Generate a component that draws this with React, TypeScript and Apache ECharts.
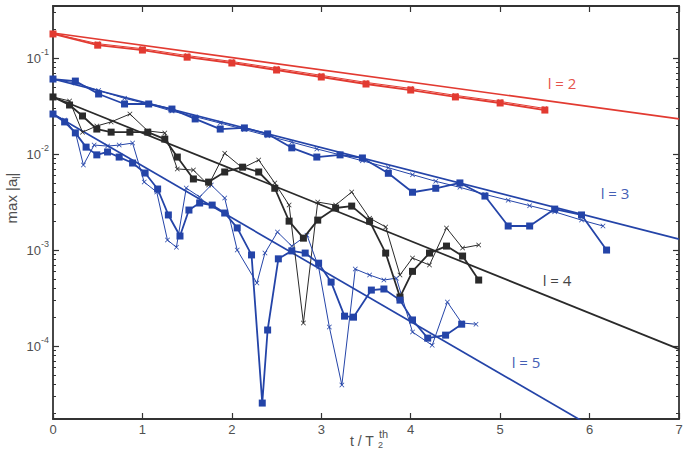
import { useEffect, useRef } from "react";
import * as echarts from "echarts";

// Axis ranges (t in units of T2th, amplitude on a log scale)
const X_MIN = 0;
const X_MAX = 7;
const Y_MIN = 1.74e-5;
const Y_MAX = 0.348;
const X_TICKS = [0, 1, 2, 3, 4, 5, 6, 7];
const Y_MAJOR = [1e-4, 1e-3, 1e-2, 1e-1];
const Y_DECADES = [1e-5, 1e-4, 1e-3, 1e-2, 1e-1];
const Y_MINOR_STEPS = [2, 3, 4, 5, 6, 7, 8, 9];

// Exponential fits (straight lines on the log axis)
const FIT_T = [0, 7];
const FIT_L2 = [0.182, 0.0232];
const FIT_L3 = [0.0604, 0.0013];
const FIT_L4 = [0.0393, 0.000093];
const FIT_L5 = [0.0261, 0.0000043];

// l = 2
const T_L2 = [0, 0.5, 1, 1.5, 2, 2.5, 3, 3.5, 4, 4.5, 5, 5.5];
const A_L2_SQ = [0.178, 0.136, 0.121, 0.102, 0.0887, 0.075, 0.0634, 0.0536, 0.0464, 0.0393, 0.034, 0.0287];
const A_L2_X = [0.18, 0.141, 0.125, 0.106, 0.092, 0.078, 0.066, 0.0557, 0.0482, 0.0408, 0.0353, 0.0298];

// l = 3
const T_L3_SQ = [0, 0.25, 0.51, 0.8, 1.07, 1.33, 1.59, 1.87, 2.14, 2.4, 2.67, 2.95, 3.21, 3.46, 3.75, 4.02, 4.28, 4.55, 4.83, 5.09, 5.33, 5.61, 5.91, 6.19];
const A_L3_SQ = [0.0604, 0.0575, 0.0422, 0.0332, 0.0332, 0.0294, 0.0232, 0.0182, 0.0187, 0.0162, 0.0116, 0.0093, 0.0098, 0.0091, 0.0063, 0.004, 0.0044, 0.005, 0.00365, 0.00178, 0.00178, 0.00267, 0.00232, 0.001];
const T_L3_X = [0, 0.25, 0.51, 0.8, 1.07, 1.33, 1.59, 1.87, 2.14, 2.4, 2.67, 2.95, 3.21, 3.46, 3.75, 4.02, 4.28, 4.55, 4.83, 5.09, 5.33, 5.61, 5.91, 6.15];
const A_L3_X = [0.06, 0.055, 0.046, 0.038, 0.033, 0.028, 0.0245, 0.021, 0.018, 0.0155, 0.0133, 0.0113, 0.0098, 0.0085, 0.0072, 0.0061, 0.0052, 0.0045, 0.0038, 0.0033, 0.0029, 0.0025, 0.00205, 0.00178];

// l = 4
const T_L4 = [0, 0.185, 0.33, 0.49, 0.65, 0.86, 1.06, 1.25, 1.39, 1.57, 1.74, 1.92, 2.12, 2.3, 2.48, 2.64, 2.8, 2.96, 3.16, 3.34, 3.54, 3.72, 3.88, 4.02, 4.21, 4.4, 4.58, 4.76];
const A_L4_SQ = [0.0393, 0.0324, 0.0249, 0.0182, 0.0169, 0.0169, 0.0169, 0.0143, 0.0093, 0.0055, 0.0051, 0.0065, 0.0073, 0.0065, 0.0044, 0.002, 0.00133, 0.00205, 0.00274, 0.00287, 0.002, 0.00093, 0.000324, 0.0006, 0.00093, 0.0011, 0.000866, 0.000487];
const A_L4_X = [0.0393, 0.0357, 0.0169, 0.0196, 0.0216, 0.0261, 0.0174, 0.0166, 0.007, 0.0068, 0.00475, 0.0102, 0.00715, 0.00866, 0.00499, 0.00294, 0.000174, 0.00316, 0.00294, 0.00402, 0.00215, 0.00174, 0.00055, 0.000826, 0.000698, 0.0017, 0.00105, 0.00113];

// l = 5
const T_L5_SQ = [0, 0.13, 0.25, 0.37, 0.49, 0.61, 0.74, 0.89, 1.03, 1.17, 1.29, 1.42, 1.52, 1.64, 1.78, 1.92, 2.06, 2.22, 2.34, 2.4, 2.52, 2.67, 2.82, 2.97, 3.11, 3.26, 3.36, 3.56, 3.7, 3.88, 4.02, 4.19, 4.39, 4.57];
const A_L5_SQ = [0.0261, 0.0216, 0.0166, 0.0118, 0.0098, 0.0105, 0.0093, 0.00806, 0.00634, 0.00432, 0.00232, 0.0014, 0.00261, 0.00309, 0.00294, 0.00243, 0.0017, 0.00089, 0.0000255, 0.000147, 0.00081, 0.00098, 0.00093, 0.00073, 0.000464, 0.000205, 0.0002, 0.000383, 0.000393, 0.000301, 0.000187, 0.000121, 0.00013, 0.000169];
const T_L5_X = [0, 0.13, 0.25, 0.34, 0.46, 0.61, 0.74, 0.89, 1.02, 1.16, 1.28, 1.38, 1.49, 1.64, 1.77, 1.92, 2.06, 2.28, 2.37, 2.51, 2.67, 2.84, 2.97, 3.09, 3.23, 3.38, 3.54, 3.7, 3.84, 4.02, 4.24, 4.41, 4.57, 4.73];
const A_L5_X = [0.0261, 0.0226, 0.0169, 0.00768, 0.0124, 0.0121, 0.0124, 0.013, 0.0051, 0.00402, 0.00127, 0.00107, 0.00442, 0.00357, 0.00475, 0.00348, 0.001, 0.000453, 0.00093, 0.00154, 0.0011, 0.00143, 0.000665, 0.000158, 0.0000393, 0.000634, 0.00055, 0.000487, 0.00051, 0.00014, 0.000102, 0.000287, 0.000174, 0.000169];

const RED = "#e23a31";
const BLUE = "#2444a8";
const BLACK = "#2a2a2a";
const AXIS = "#333333";
const TEXT = "#505050";
const FONT = "Liberation Sans";

const CROSS = "path://M1,0 L5,4 L9,0 L10,1 L6,5 L10,9 L9,10 L5,6 L1,10 L0,9 L4,5 L0,1 Z";

const zip = (t: number[], a: number[]) => t.map((x, i) => [x, a[i]]);

const minorValues: number[] = [];
Y_DECADES.forEach((d) =>
  Y_MINOR_STEPS.forEach((k) => {
    const v = k * d;
    if (v > Y_MIN && v < Y_MAX) minorValues.push(v);
  })
);

function fitSeries(a: number[], color: string) {
  return {
    type: "line",
    data: zip(FIT_T, a),
    symbol: "none",
    clip: true,
    silent: true,
    lineStyle: { color, width: 1.7 },
    z: 2,
  };
}

function squareSeries(t: number[], a: number[], color: string) {
  return {
    type: "line",
    data: zip(t, a),
    symbol: "rect",
    symbolSize: 7,
    showAllSymbol: true,
    clip: true,
    silent: true,
    lineStyle: { color, width: 1.8 },
    itemStyle: { color },
    z: 4,
  };
}

function crossSeries(t: number[], a: number[], color: string) {
  return {
    type: "line",
    data: zip(t, a),
    symbol: CROSS,
    symbolSize: 5,
    showAllSymbol: true,
    clip: true,
    silent: true,
    lineStyle: { color, width: 1 },
    itemStyle: { color },
    z: 3,
  };
}

function yAxisBase(position: "left" | "right") {
  return {
    type: "log",
    logBase: 10,
    min: Y_MIN,
    max: Y_MAX,
    position,
    splitLine: { show: false },
    axisLine: { show: false },
    axisLabel: { show: false },
    axisTick: { show: false },
  };
}

const option = {
  animation: false,
  backgroundColor: "#ffffff",
  grid: { left: 53, top: 6, width: 626, height: 413, containLabel: false },
  xAxis: [
    {
      type: "value",
      min: X_MIN,
      max: X_MAX,
      interval: 1,
      position: "bottom",
      splitLine: { show: false },
      axisLine: { show: true, lineStyle: { color: AXIS, width: 1.8 } },
      axisTick: { show: true, inside: true, length: 6, lineStyle: { color: AXIS, width: 1.2 }, customValues: X_TICKS },
      axisLabel: {
        show: true,
        margin: 4,
        color: TEXT,
        fontFamily: FONT,
        fontSize: 13,
        customValues: X_TICKS,
        formatter: (v: number) => String(v),
      },
    },
    {
      type: "value",
      min: X_MIN,
      max: X_MAX,
      interval: 1,
      position: "top",
      splitLine: { show: false },
      axisLine: { show: true, lineStyle: { color: AXIS, width: 1.8 } },
      axisTick: { show: true, inside: true, length: 6, lineStyle: { color: AXIS, width: 1.2 } },
      axisLabel: { show: false },
    },
  ],
  yAxis: [
    {
      ...yAxisBase("left"),
      axisLine: { show: true, lineStyle: { color: AXIS, width: 1.8 } },
      axisTick: { show: true, inside: true, length: 6, lineStyle: { color: AXIS, width: 1.2 }, customValues: Y_MAJOR },
      axisLabel: {
        show: true,
        margin: 4,
        color: TEXT,
        fontFamily: FONT,
        fontSize: 13,
        customValues: Y_MAJOR,
        formatter: (v: number) => "{m|10}{s|" + Math.round(Math.log10(v)) + "}",
        rich: {
          m: { fontSize: 13, fontFamily: FONT, color: TEXT, lineHeight: 22 },
          s: { fontSize: 9, fontFamily: FONT, color: TEXT, lineHeight: 10, verticalAlign: "top" },
        },
      },
    },
    {
      ...yAxisBase("left"),
      axisTick: { show: true, inside: true, length: 3, lineStyle: { color: AXIS, width: 1 }, customValues: minorValues },
    },
    {
      ...yAxisBase("right"),
      axisLine: { show: true, lineStyle: { color: AXIS, width: 1.8 } },
      axisTick: { show: true, inside: true, length: 6, lineStyle: { color: AXIS, width: 1.2 }, customValues: Y_MAJOR },
    },
    {
      ...yAxisBase("right"),
      axisTick: { show: true, inside: true, length: 3, lineStyle: { color: AXIS, width: 1 }, customValues: minorValues },
    },
  ],
  series: [
    fitSeries(FIT_L2, RED),
    crossSeries(T_L2, A_L2_X, RED),
    squareSeries(T_L2, A_L2_SQ, RED),
    fitSeries(FIT_L3, BLUE),
    crossSeries(T_L3_X, A_L3_X, BLUE),
    squareSeries(T_L3_SQ, A_L3_SQ, BLUE),
    fitSeries(FIT_L4, BLACK),
    crossSeries(T_L4, A_L4_X, BLACK),
    squareSeries(T_L4, A_L4_SQ, BLACK),
    fitSeries(FIT_L5, BLUE),
    crossSeries(T_L5_X, A_L5_X, BLUE),
    squareSeries(T_L5_SQ, A_L5_SQ, BLUE),
  ],
  graphic: [
    { type: "text", x: 562, y: 83, silent: true, style: { text: "l = 2", fill: "#e5534b", font: "15px 'Open Sans'", align: "center", verticalAlign: "middle" } },
    { type: "text", x: 615, y: 193, silent: true, style: { text: "l = 3", fill: "#4560b5", font: "15px 'Open Sans'", align: "center", verticalAlign: "middle" } },
    { type: "text", x: 557, y: 280, silent: true, style: { text: "l = 4", fill: "#444444", font: "15px 'Open Sans'", align: "center", verticalAlign: "middle" } },
    { type: "text", x: 526, y: 362, silent: true, style: { text: "l = 5", fill: "#4560b5", font: "15px 'Open Sans'", align: "center", verticalAlign: "middle" } },
    {
      type: "text",
      x: 11,
      y: 198,
      rotation: Math.PI / 2,
      silent: true,
      style: {
        text: "{m|max |a}{b|l}{m||}",
        align: "center",
        verticalAlign: "middle",
        rich: {
          m: { fontSize: 15, fontFamily: FONT, fill: TEXT, lineHeight: 20 },
          b: { fontSize: 10, fontFamily: FONT, fill: TEXT, lineHeight: 10, verticalAlign: "bottom" },
        },
      },
    },
    { type: "text", x: 350, y: 441, silent: true, style: { text: "t / T", fill: TEXT, font: `14px '${FONT}'`, align: "left", verticalAlign: "middle" } },
    { type: "text", x: 378, y: 445, silent: true, style: { text: "2", fill: TEXT, font: `9px '${FONT}'`, align: "left", verticalAlign: "middle" } },
    { type: "text", x: 379, y: 434, silent: true, style: { text: "th", fill: TEXT, font: `11px '${FONT}'`, align: "left", verticalAlign: "middle" } },
  ],
};

export default function App() {
  const ref = useRef<HTMLDivElement | null>(null);
  useEffect(() => {
    if (!ref.current) return;
    const chart = echarts.init(ref.current, null, { renderer: "svg" });
    chart.setOption(option as any);
    return () => chart.dispose();
  }, []);
  return (
    <div
      ref={ref}
      style={{ position: "fixed", left: 0, top: 0, width: 686, height: 450, background: "#ffffff" }}
    />
  );
}
